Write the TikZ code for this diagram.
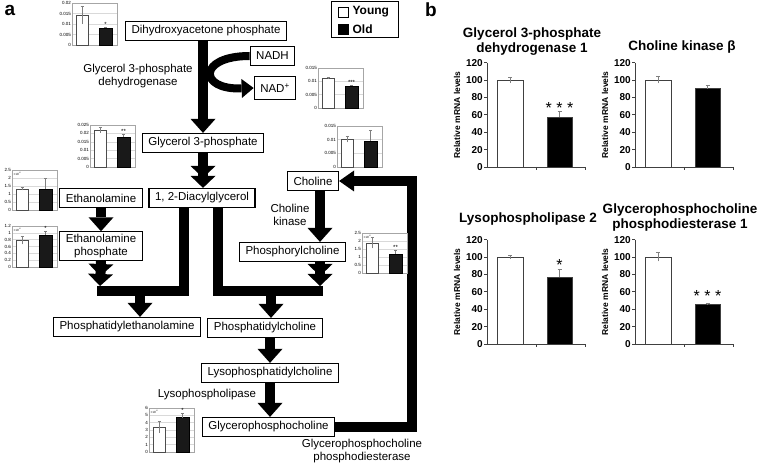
\documentclass[tikz,border=0pt]{standalone}
\usepackage{fontspec}
\setmainfont{Liberation Sans}
\usetikzlibrary{arrows.meta,positioning}

% small inset charts of panel a
\newcommand{\insetaxes}[3]{%
  \foreach \lbl [count=\idx from 0] in {#1}{
    \draw[insetgrid] (0,\idx*#2) -- (45,\idx*#2);
    \node[insettick] (tick\idx) at (-0.5,\idx*#2) {\lbl};
  }
  \draw[insetframe] (0,0) rectangle (45,#3);
}
\newcommand{\insetbars}[5]{%
  \draw[insetwhite] (4,0) rectangle (16,#1);
  \draw[insetblack] (27,0) rectangle (40,#3);
  \draw[inseterr] (10,#1-#2) -- (10,#1+#2) (8.5,#1+#2) -- (11.5,#1+#2);
  \draw[inseterr] (33.5,#3) -- (33.5,#3+#4) (32,#3+#4) -- (35,#3+#4);
  \node[insetstar] (stars) at (33.5,#3+#4) {#5};
}
% bar charts of panel b
\newcommand{\mrnachart}[4]{%
  \draw[axisline] (0,120) -- (0,0) -- (98,0);
  \foreach \tk in {0,20,...,120}{
    \draw[axisline] (-3,\tk) -- (0,\tk);
    \node[bigtick] (level\tk) at (-3,\tk) {\tk};
  }
  \foreach \tk in {49,98} \draw[axisline] (\tk,0) -- (\tk,-4);
  \node[ylbl] (ylabel) at (-30,60) {Relative mRNA levels};
  \draw[bigbar, fill=white] (10,0) rectangle (36,#1);
  \draw[bigbar, fill=black] (60,0) rectangle (85,#3);
  \draw[errline] (23,#1-#2) -- (23,#1+#2) (21,#1+#2) -- (25,#1+#2);
  \draw[errline] (72.5,#3) -- (72.5,#3+#4) (70.5,#3+#4) -- (74.5,#3+#4);
}

\begin{document}
\begin{tikzpicture}[x=1pt,y=-1pt]
  \tikzstyle{element}=[rectangle, draw, line width=1.2pt, inner xsep=6pt, inner ysep=2pt, minimum height=19pt, align=center, font=\fontsize{11.5}{13.5}\selectfont]
  \tikzstyle{enzyme}=[align=center, font=\fontsize{11.5}{13}\selectfont]
  \tikzstyle{leadsto}=[-{Triangle[width=25pt,length=14pt,line width=0pt]}, line width=10pt]
  \tikzstyle{leadstwice}=[-{Triangle[width=25pt,length=12pt,line width=0pt,sep=-2pt]Triangle[width=25pt,length=12pt,line width=0pt]}, line width=10pt]
  \tikzstyle{pathbar}=[line width=10pt]
  \tikzstyle{cofactor}=[-{Triangle[width=19pt,length=12pt,line width=0pt]}, line width=8pt]
  \tikzstyle{loopback}=[-{Triangle[width=21pt,length=15pt,line width=0pt]}, line width=10pt]
  \tikzstyle{panel}=[font=\bfseries\fontsize{19}{19}\selectfont]
  \tikzstyle{keybox}=[draw, line width=0.8pt, minimum size=10pt, inner sep=0pt]
  \tikzstyle{legendtext}=[inner sep=1pt, font=\bfseries\fontsize{12}{12}\selectfont]
  \tikzstyle{insetframe}=[draw=gray!70, line width=0.6pt]
  \tikzstyle{insetgrid}=[draw=gray!30, line width=0.4pt]
  \tikzstyle{insettick}=[anchor=east, inner sep=0.5pt, font=\fontsize{4.5}{5}\selectfont]
  \tikzstyle{insetwhite}=[draw=gray!60!black, fill=white, line width=0.5pt]
  \tikzstyle{insetblack}=[draw=black, fill=black!90, line width=0.5pt]
  \tikzstyle{inseterr}=[draw=gray, line width=0.5pt]
  \tikzstyle{insetstar}=[anchor=south, inner sep=0.5pt, font=\fontsize{6}{6}\selectfont]
  \tikzstyle{insetexp}=[anchor=north west, inner sep=0.5pt, font=\fontsize{3}{3}\selectfont]
  \tikzstyle{axisline}=[draw=black!75, line width=0.7pt]
  \tikzstyle{bigtick}=[anchor=east, inner sep=1pt, font=\bfseries\fontsize{10}{10}\selectfont]
  \tikzstyle{ylbl}=[rotate=90, font=\bfseries\fontsize{8.5}{8.5}\selectfont]
  \tikzstyle{bigbar}=[draw=black!75, line width=0.8pt]
  \tikzstyle{errline}=[draw=gray, line width=0.5pt]
  \tikzstyle{bigstar}=[anchor=base, inner sep=0pt, font=\fontsize{16}{16}\selectfont]
  \tikzstyle{charttitle}=[align=center, font=\bfseries\fontsize{13.5}{15}\selectfont]

  \useasboundingbox (0,0) rectangle (758,465);

  \node[panel] (labela) at (10,10) {a};
  \node[panel] (labelb) at (431,10) {b};

  % legend
  \draw[line width=1pt] (331,2) rectangle (398,38);
  \node[keybox, fill=white] (youngkey) at (343,12) {};
  \node[legendtext, right=3pt of youngkey] (young) {Young};
  \node[keybox, fill=black] (oldkey) at (343,29) {};
  \node[legendtext, right=3pt of oldkey] (old) {Old};

  % = glycerol side =
  \node[element] (dhap) at (206,31) {Dihydroxyacetone phosphate};
  \node[element] (nadh) at (272.5,56) {NADH};
  \node[element, minimum height=23pt] (nadp) at (275,88) {NAD\textsuperscript{+}};
  \node[element] (g3p) at (203,143) {Glycerol 3-phosphate};
  \node[element] (dag) at (202,198) {1, 2-Diacylglycerol};
  \node[enzyme] (g3pdh) at (138,76) {Glycerol 3-phosphate\\dehydrogenase};

  \draw[leadsto] (g3p.north |- dhap.south) -- (g3p.north);
  \draw[cofactor] (nadh.west) .. controls (198,56) and (198,90) .. (nadp.west);
  \draw[leadstwice] (g3p.south) -- (g3p.south |- dag.north);

  % = ethanolamine side =
  \node[element] (etn) at (101,198) {Ethanolamine};
  \node[element] (etnp) at (101,246) {Ethanolamine\\phosphate};
  \node[element] (pe) at (127,327) {Phosphatidylethanolamine};
  \coordinate (etnpend) at (100,286);
  \coordinate (peleft) at (97,291);
  \coordinate (peright) at (184,291);
  \coordinate (pejoin) at (140,291);

  \draw[leadsto] (etn) -- (etnp);
  \draw[leadstwice] (etnp.south) -- (etnpend);
  \draw[pathbar] (dag.south -| peright) -- (peright) -- (peleft);
  \draw[leadsto] (pejoin) -- (pejoin |- pe.north);

  % = choline side =
  \node[element] (cho) at (313,181) {Choline};
  \node[element] (pcho) at (292.5,252) {Phosphorylcholine};
  \node[element] (pc) at (265,328) {Phosphatidylcholine};
  \node[element] (lpc) at (270,373) {Lysophosphatidylcholine};
  \node[element] (gpc) at (268.5,427) {Glycerophosphocholine};
  \node[enzyme] (chok) at (290,215) {Choline\\kinase};
  \node[enzyme] (lpl) at (207,395) {Lysophospholipase};
  \node[enzyme] (gpcpde) at (362,451) {Glycerophosphocholine\\phosphodiesterase};
  \coordinate (pchoend) at (320,286);
  \coordinate (pcleft) at (218,291);
  \coordinate (pcright) at (323,291);
  \coordinate (pcjoin) at (271,291);
  \coordinate (loopturn) at (412,181);

  \draw[leadsto] (cho.south -| pchoend) -- (pcho.north -| pchoend);
  \draw[leadstwice] (pcho.south -| pchoend) -- (pchoend);
  \draw[pathbar] (dag.south -| pcleft) -- (pcleft) -- (pcright);
  \draw[leadsto] (pcjoin) -- (pcjoin |- pc.north);
  \draw[leadsto] (lpc.north |- pc.south) -- (lpc.north);
  \draw[leadsto] (lpc.south) -- (lpc.south |- gpc.north);
  \draw[loopback] (gpc.east) -| (loopturn) -- (cho.east);

  % inset charts, bottom-left corner of each frame
  \begin{scope}[shift={(72,45)}, y=1pt]
    \insetaxes{0,0.005,0.01,0.015,0.02}{10.5}{42}
    \insetbars{30}{9}{17}{1}{*}
  \end{scope}
  \begin{scope}[shift={(90,167)}, y=1pt]
    \insetaxes{0,0.005,0.01,0.015,0.02,0.025}{8.4}{42}
    \insetbars{37}{3}{30}{2.5}{**}
  \end{scope}
  \begin{scope}[shift={(318,108)}, y=1pt]
    \insetaxes{0,0.005,0.01,0.015}{13.33}{40}
    \insetbars{30}{1}{22}{0.8}{***}
  \end{scope}
  \begin{scope}[shift={(337,167)}, y=1pt]
    \insetaxes{0,0.005,0.01,0.015}{13.67}{41}
    \insetbars{27.5}{3}{26}{11}{}
  \end{scope}
  \begin{scope}[shift={(12,210)}, y=1pt]
    \insetaxes{0,0.5,1,1.5,2,2.5}{8}{40}
    \insetbars{21}{1.5}{20.8}{10.5}{}
    \node[insetexp] (expetn) at (1,39) {×10\textsuperscript{-4}};
  \end{scope}
  \begin{scope}[shift={(12,267)}, y=1pt]
    \insetaxes{0,0.2,0.4,0.6,0.8,1,1.2}{6.83}{41}
    \insetbars{26.5}{4}{32}{3.5}{*}
    \node[insetexp] (expetnp) at (1,40) {×10\textsuperscript{-4}};
  \end{scope}
  \begin{scope}[shift={(362,273)}, y=1pt]
    \insetaxes{0,0.5,1,1.5,2,2.5}{8}{40}
    \insetbars{30}{5.5}{19.2}{4}{**}
    \node[insetexp] (exppcho) at (1,39) {×10\textsuperscript{-4}};
  \end{scope}
  \begin{scope}[shift={(149,452)}, y=1pt]
    \insetaxes{0,1,2,3,4,5,6}{7.33}{44}
    \insetbars{25}{6}{34.5}{4.5}{*}
    \node[insetexp] (expgpc) at (1,43) {×10\textsuperscript{-4}};
  \end{scope}

  % = panel b =
  \node[charttitle] (titlegpd) at (532,42) {Glycerol 3-phosphate\\dehydrogenase 1};
  \node[charttitle] (titlechk) at (682,47) {Choline kinase β};
  \node[charttitle] (titlelpl) at (528,219) {Lysophospholipase 2};
  \node[charttitle] (titlegde) at (680,218) {Glycerophosphocholine\\phosphodiesterase 1};

  \begin{scope}[shift={(487,167)}, y=0.87pt]
    \mrnachart{100}{3.5}{57.5}{7}
    \node[bigstar] (stargpd) at (72.5,62) {* * *};
  \end{scope}
  \begin{scope}[shift={(635,167)}, y=0.87pt]
    \mrnachart{100}{4}{90}{4}
  \end{scope}
  \begin{scope}[shift={(487,344)}, y=0.87pt]
    \mrnachart{100}{2}{77}{9}
    \node[bigstar] (starlpl) at (72.5,85) {*};
  \end{scope}
  \begin{scope}[shift={(635,344)}, y=0.87pt]
    \mrnachart{100}{5}{45}{2}
    \node[bigstar] (stargde) at (72.5,49) {* * *};
  \end{scope}
\end{tikzpicture}
\end{document}
